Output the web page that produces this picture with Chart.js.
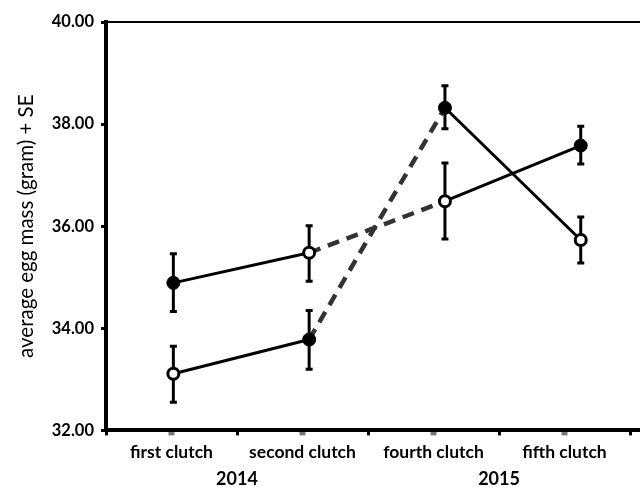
<!DOCTYPE html>
<html>
<head>
<meta charset="utf-8">
<script src="https://cdn.jsdelivr.net/npm/chart.js@4.4.1/dist/chart.umd.min.js"></script>
<style>
  html, body { margin: 0; padding: 0; background: #fff; overflow: hidden; width: 640px; height: 490px; }
  /* the plot runs off the right edge of the original figure, so the canvas is a bit wider than the window */
  #wrap { width: 649px; height: 490px; position: relative; }
</style>
</head>
<body>
<div id="wrap"><canvas id="c"></canvas></div>
<script>
// ===== Data =====
const clutches = ["first clutch", "second clutch", "fourth clutch", "fifth clutch"];
const years = ["2014", "2015"];
const yearPos = [0.5, 2.5];          // year labels sit between the clutches of each year
const yTicks = [32, 34, 36, 38, 40];

// line A: filled -> open -> open -> filled
const aMean   = [34.89, 35.48, 36.49, 37.58];
const aLow    = [34.33, 34.92, 35.75, 37.22];
const aHigh   = [35.46, 36.01, 37.24, 37.96];
const aFilled = [true, false, false, true];

// line B: open -> filled -> filled -> open
const bMean   = [33.11, 33.78, 38.32, 35.73];
const bLow    = [32.55, 33.20, 37.91, 35.28];
const bHigh   = [33.65, 34.35, 38.75, 36.18];
const bFilled = [false, true, true, false];

// ===== Global config =====
Chart.defaults.font.family = "Lato, 'Open Sans', sans-serif";
Chart.defaults.color = "#000";

// segment 1 (second -> fourth clutch) is the gap between years: dashed
const seg = {
  borderDash: ctx => ctx.p0DataIndex === 1 ? [12, 8] : [],
  borderColor: ctx => ctx.p0DataIndex === 1 ? "#333" : "#000",
  borderWidth: ctx => ctx.p0DataIndex === 1 ? 4.5 : 3
};

function lineDataset(mean, low, high, filled) {
  return {
    data: mean.map((v, i) => ({ x: i, y: v })),
    low: low,
    high: high,
    xAxisID: "xData",
    borderColor: "#000",
    borderWidth: 3,
    pointRadius: filled.map(f => f ? 6.5 : 5.5),
    pointBackgroundColor: filled.map(f => f ? "#000" : "#fff"),
    pointBorderColor: "#000",
    pointBorderWidth: filled.map(f => f ? 1 : 3),
    segment: seg
  };
}

// ===== Error bars (+/- SE) =====
const errorBars = {
  id: "errorBars",
  beforeDatasetsDraw(chart) {
    const { ctx, scales } = chart;
    const xs = scales.xData, ys = scales.y;
    ctx.save();
    ctx.strokeStyle = "#000";
    ctx.lineWidth = 3;
    chart.data.datasets.forEach(ds => {
      ds.low.forEach((lo, i) => {
        const x = xs.getPixelForValue(i);
        const y0 = ys.getPixelForValue(lo);
        const y1 = ys.getPixelForValue(ds.high[i]);
        ctx.beginPath();
        ctx.moveTo(x, y0); ctx.lineTo(x, y1);
        ctx.moveTo(x - 3.5, y0); ctx.lineTo(x + 3.5, y0);
        ctx.moveTo(x - 3.5, y1); ctx.lineTo(x + 3.5, y1);
        ctx.stroke();
      });
    });
    ctx.restore();
  }
};

function createChart() {
  const ctx = document.getElementById("c").getContext("2d");
  new Chart(ctx, {
    type: "line",
    data: {
      datasets: [
        lineDataset(aMean, aLow, aHigh, aFilled),
        lineDataset(bMean, bLow, bHigh, bFilled)
      ]
    },
    options: {
      responsive: true,
      maintainAspectRatio: false,
      animation: false,
      layout: { padding: { top: 22, left: 4, right: 0, bottom: 0 } },
      plugins: { legend: { display: false }, tooltip: { enabled: false } },
      scales: {
        xData: {
          type: "linear",
          display: false,
          min: -0.496,
          max: 3.44
        },
        xTop: {
          type: "linear",
          position: "top",
          min: 0, max: 1,
          ticks: { display: false },
          grid: { display: false, drawTicks: false },
          border: { display: true, width: 2, color: "#000" }
        },
        x: {
          type: "linear",
          position: "bottom",
          weight: 1,
          min: -0.5,
          max: 3.58,
          afterBuildTicks: axis => {
            axis.ticks = [-0.5, 0, 0.5, 1, 1.5, 2, 2.5, 3, 3.5].map(v => ({ value: v }));
          },
          ticks: {
            autoSkip: false,
            maxRotation: 0,
            padding: 6,
            font: { size: 17.5, weight: "bold" },
            callback: v => Number.isInteger(v) ? clutches[v] : ""
          },
          grid: {
            drawOnChartArea: false,
            tickLength: 5,
            tickWidth: c => Number.isInteger(c.tick.value) ? 6 : 3,
            tickColor: c => Number.isInteger(c.tick.value) ? "#777" : "#000"
          },
          border: { width: 4, color: "#000" }
        },
        yearAxis: {
          type: "linear",
          position: "bottom",
          weight: 2,
          min: -0.5,
          max: 3.58,
          afterBuildTicks: axis => {
            axis.ticks = yearPos.map(v => ({ value: v }));
          },
          ticks: {
            autoSkip: false,
            maxRotation: 0,
            padding: 0,
            font: { size: 18, weight: "bold" },
            callback: (v, i) => years[i]
          },
          grid: { display: false, drawTicks: false },
          border: { display: false }
        },
        y: {
          min: 32,
          max: 40,
          afterBuildTicks: axis => {
            axis.ticks = yTicks.map(v => ({ value: v }));
          },
          afterFit: s => { s.width = 102; },
          ticks: {
            padding: 7,
            font: { size: 16.5, weight: "bold" },
            callback: v => v.toFixed(2)
          },
          grid: {
            drawOnChartArea: false,
            tickLength: 5,
            tickWidth: 3,
            color: "#000"
          },
          border: { width: 4, color: "#000" },
          title: {
            display: true,
            text: "average egg mass (gram) + SE",
            font: { size: 20.5 },
            padding: { top: 10, bottom: 3 }
          }
        }
      }
    },
    plugins: [errorBars]
  });
}

document.addEventListener("DOMContentLoaded", createChart);
</script>
</body>
</html>
